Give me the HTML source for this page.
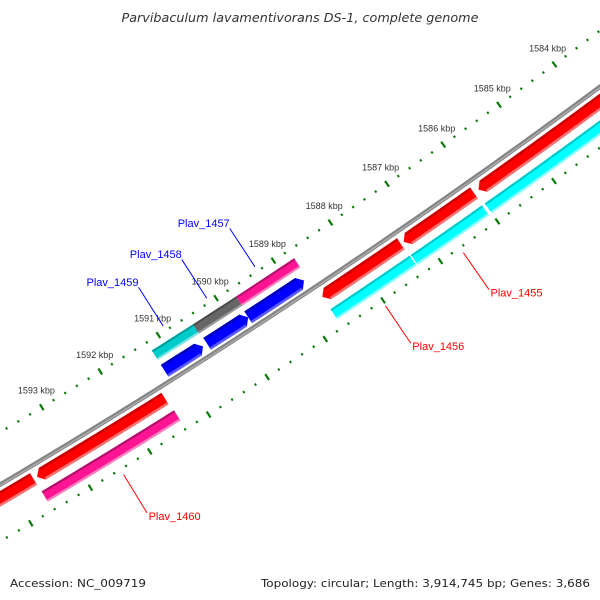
<!DOCTYPE html>
<html><head><meta charset="utf-8"><style>
html,body{margin:0;padding:0;background:#fff;}
svg{display:block;}
</style></head><body>
<svg id="map" width="600" height="600" viewBox="0 0 600 600" xmlns="http://www.w3.org/2000/svg">
<rect width="600" height="600" fill="#fff"/>
<g id="layer"></g>
<text x="300" y="22" text-anchor="middle" font-family="DejaVu Sans, sans-serif" font-style="italic" font-size="12" fill="#333" textLength="357" lengthAdjust="spacingAndGlyphs">Parvibaculum lavamentivorans DS-1, complete genome</text>
<text x="10" y="587" font-family="DejaVu Sans, sans-serif" font-size="11" fill="#222" textLength="136" lengthAdjust="spacingAndGlyphs">Accession: NC_009719</text>
<text x="590" y="587" text-anchor="end" font-family="DejaVu Sans, sans-serif" font-size="11" fill="#222" textLength="329" lengthAdjust="spacingAndGlyphs">Topology: circular; Length: 3,914,745 bp; Genes: 3,686</text>
</svg>
<script>
// ---- data (kbp) ----
const tickLabels = [1584,1585,1586,1587,1588,1589,1590,1591,1592,1593];
const fwdStart = [1591.20,1590.47,1589.76];
const fwdEnd   = [1590.54,1589.76,1588.79];
const fwdCogStart = [1591.20,1590.49,1589.74];
const fwdCogEnd   = [1590.49,1589.74,1588.73];
const fwdCogColor = ['cyan','gray','pink'];
const revStart = [1582.00,1586.04,1587.33,1591.41,1593.64];
const revEnd   = [1585.96,1587.28,1588.70,1593.58,1596.50];
const revCogStart = [1582.00,1586.05,1587.32,1591.39];
const revCogEnd   = [1586.00,1587.30,1588.70,1593.63];
const revCogColor = ['ltcyan','ltcyan','ltcyan','pink'];
const fwdLabels = ['Plav_1459','Plav_1458','Plav_1457'];
const fwdLabelGene = [0,1,2];
const revLabels = ['Plav_1455','Plav_1456','Plav_1460'];
const revLabelGene = [1,2,3];

// ---- axis / projection ----
const R0=6870, B0=1588.97, PX=69, P0=[300,297];
const th=33.5*Math.PI/180;
const nx=-Math.sin(th), ny=-Math.cos(th);
const Cx=P0[0]+R0*nx, Cy=P0[1]+R0*ny;
const phi0=Math.atan2(-ny,-nx);
function pos(bp,d){const f=phi0+(bp-B0)*PX/R0;const r=R0-d;return [Cx+r*Math.cos(f),Cy+r*Math.sin(f)];}
function arcPts(b1,b2,d){const pts=[];const n=Math.max(2,Math.ceil(Math.abs(b2-b1)*8));for(let i=0;i<=n;i++){pts.push(pos(b1+(b2-b1)*i/n,d));}return pts;}
function ptsStr(p){return p.map(q=>q[0].toFixed(2)+','+q[1].toFixed(2)).join(' ');}
const layer=document.getElementById('layer');
const NS='http://www.w3.org/2000/svg';
function mk(tag,attrs){const e=document.createElementNS(NS,tag);for(const k in attrs)e.setAttribute(k,attrs[k]);layer.appendChild(e);return e;}

const PAL={
 red:['#c80000','#ff0000','#ff7070'],
 blue:['#0000b8','#0000ff','#5a5aff'],
 cyan:['#009c9c','#00cccc','#7ee6e6'],
 ltcyan:['#00c8c8','#00ffff','#8affff'],
 gray:['#4a4a4a','#666666','#9a9a9a'],
 pink:['#b0106a','#ff1493','#ff80c0']
};
function band(b1,b2,d1,d2,col,name){
 const p=arcPts(b1,b2,d2).concat(arcPts(b2,b1,d1));
 const e=mk('polygon',{points:ptsStr(p),fill:col});
 
 
 return e;
}
function feature(b1,b2,dLo,dHi,pal,arrow,name){
 const c=PAL[pal];const w=dHi-dLo;const h=arrow?6/PX:0;
 const dir=Math.sign(b2-b1);
 const bh=b2-dir*h;
 let p=arcPts(b1,bh,dHi);
 if(arrow){p.push(pos(b2,(dHi+dLo)/2));}
 p=p.concat(arcPts(bh,b1,dLo));
 const e=mk('polygon',{points:ptsStr(p),fill:c[1]});
 
 
 band(b1,bh,dHi-w*0.18,dHi,c[0],name+'-shade-top');
 band(b1,bh,dLo,dLo+w*0.18,c[2],name+'-shade-bottom');
}

// backbone
const bb=mk('polyline',{points:ptsStr(arcPts(1581,1597,0)),fill:'none',stroke:'#858585','stroke-width':4.5});


const bb2=mk('polyline',{points:ptsStr(arcPts(1581,1597,-0.6)),fill:'none',stroke:'#b0b0b0','stroke-width':1.2});



// ticks
for(let i=0;i<=75;i++){
 const b=1582+i*0.2;const major=(i%5===0);
 [45,-49].forEach(function(dc){
  const L=major?3.5:1.2;
  const a=pos(b,dc+L),z=pos(b,dc-L);
  const t=mk('line',{x1:a[0],y1:a[1],x2:z[0],y2:z[1],stroke:'#0a7a0a','stroke-width':major?2.2:2});
  
  
 });
}
tickLabels.forEach(function(k){
 const p=pos(k-4/PX,62);
 const t=mk('text',{x:p[0].toFixed(1),y:(p[1]+3).toFixed(1),'text-anchor':'middle','font-family':'Liberation Sans, sans-serif','font-size':'9',fill:'#333'});
 t.textContent=k+' kbp';
 
 
});

// features
for(let i=0;i<fwdCogStart.length;i++){feature(fwdCogStart[i],fwdCogEnd[i],24.5,35.5,fwdCogColor[i],false,'forward-cog-'+i);}
for(let i=0;i<revCogStart.length;i++){feature(revCogStart[i],revCogEnd[i],-39,-27,revCogColor[i],false,'reverse-cog-'+i);}
for(let i=0;i<fwdStart.length;i++){feature(fwdStart[i],fwdEnd[i],4.5,18.5,'blue',true,'forward-gene-'+i);}
for(let i=0;i<revStart.length;i++){feature(revStart[i],revEnd[i],-19,-5.5,'red',true,'reverse-gene-'+i);}

// labels
fwdLabels.forEach(function(lbl,j){
 const g=fwdLabelGene[j];const m=(fwdStart[g]+fwdEnd[g])/2;
 const a=pos(m,50),z=pos(m,96);
 const l=mk('line',{x1:a[0],y1:a[1],x2:z[0],y2:z[1],stroke:'#0000ff','stroke-width':1});
 
 
 const t=mk('text',{x:z[0].toFixed(1),y:(z[1]-1.5).toFixed(1),'text-anchor':'end','font-family':'Liberation Sans, sans-serif','font-size':'11',fill:'#0000ff'});
 t.textContent=lbl;
 
 
});
revLabels.forEach(function(lbl,j){
 const g=revLabelGene[j];const m=(revStart[g]+revEnd[g])/2;
 const a=pos(m,-55),z=pos(m,-100);
 const l=mk('line',{x1:a[0],y1:a[1],x2:z[0],y2:z[1],stroke:'#ff0000','stroke-width':1});
 
 
 const t=mk('text',{x:(z[0]+1.5).toFixed(1),y:(z[1]+7).toFixed(1),'text-anchor':'start','font-family':'Liberation Sans, sans-serif','font-size':'11',fill:'#ff0000'});
 t.textContent=lbl;
 
 
});
</script>
</body></html>
